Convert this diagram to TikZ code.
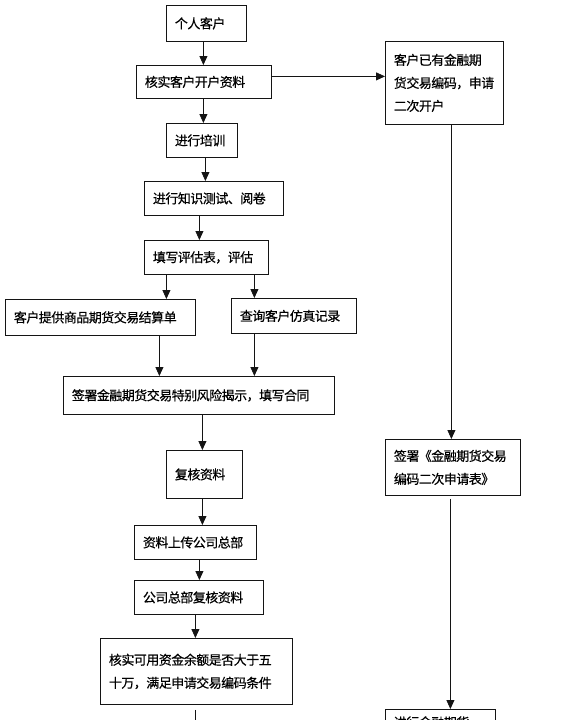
\documentclass[tikz,border=0pt]{standalone}
\usepackage{fontspec}
\usepackage{tikz}
\usetikzlibrary{
	arrows.meta, positioning, calc
}
\newfontfamily\cjk[LetterSpace=-4, FakeBold=0.5]{Noto Sans CJK SC}
\definecolor{flowdark}      {RGB}{ 20,  20,  20}

\begin{document}
\begin{tikzpicture}[x=1pt,y=-1pt,
		stepbox/.style={draw=flowdark, line width=0.8pt, anchor=north west, inner xsep=8.5pt, inner ysep=0pt,
			align=left, font=\cjk\fontsize{13pt}{23pt}\selectfont},
		arr/.style={draw=flowdark, line width=0.8pt, -{Triangle[length=9pt,width=8pt]}},
		plain/.style={draw=flowdark, line width=0.8pt}]
				\useasboundingbox (0,0) rectangle (573,720);
				\clip (0,0) rectangle (573,720);
				\node[stepbox, text width=63pt,  minimum height=36pt] (cust)   at (166,5)   {个人客户};
				\node[stepbox, text width=118pt, minimum height=33pt] (verify) at (136,65)  {核实客户开户资料};
				\node[stepbox, text width=54pt,  minimum height=34pt] (train)  at (166,123) {进行培训};
				\node[stepbox, text width=122pt, minimum height=34pt] (test)   at (144,181) {进行知识测试、阅卷};
				\node[stepbox, text width=107pt, minimum height=34pt] (eval)   at (144,240) {填写评估表，评估};
				\node[stepbox, text width=173pt, minimum height=36pt] (settle) at (5,299)   {客户提供商品期货交易结算单};
				\node[stepbox, text width=108pt, minimum height=35pt] (query)  at (231,298) {查询客户仿真记录};
				\node[stepbox, text width=254pt, minimum height=38pt] (sign)   at (63,376)  {签署金融期货交易特别风险揭示，填写合同};
				\node[stepbox, text width=59pt,  minimum height=48pt] (review) at (166,450) {复核资料};
				\node[stepbox, text width=105pt, minimum height=34pt] (upload) at (134,525) {资料上传公司总部};
				\node[stepbox, text width=112pt, minimum height=34pt] (hq)     at (134,580) {公司总部复核资料};
				\node[stepbox, text width=175pt, minimum height=66pt] (check)  at (100,638) {核实可用资金余额是否大于五\\十万，满足申请交易编码条件};
				\node[stepbox, text width=101pt, minimum height=83pt] (again)  at (385,41)  {客户已有金融期\\货交易编码，申请\\二次开户};
				\node[stepbox, text width=118pt, minimum height=56pt] (form)   at (385,439) {签署《金融期货交易\\编码二次申请表》};
				\node[stepbox, text width=93pt,  minimum height=26pt] (open)   at (385,709) {进行金融期货};
				\coordinate (tail) at (195,720);
				\foreach \a/\b/\s in {cust/verify/-3, verify/train/-0.5, train/test/3.5, test/eval/-14.5,
					eval/settle/-40, eval/query/48, settle/sign/59, query/sign/-39.5, sign/review/3.5,
					review/upload/-2, upload/hq/4, hq/check/-3.5, again/form/7}{
					\path ($(\a.south)+(\s,0)$) coordinate (p);
					\draw[arr] (p) -- (p |- \b.north);
				}
				\path ($(form.south)+(-2.5,3)$) coordinate (q);
				\draw[arr] (q) -- (q |- open.north);
				\path ([yshift=5.5pt]verify.east) coordinate (h);
				\draw[arr] (h) -- (h -| again.west);
				\draw[plain] ($(check.south -| tail)+(0,5)$) -- (tail);
			\end{tikzpicture}
\end{document}
